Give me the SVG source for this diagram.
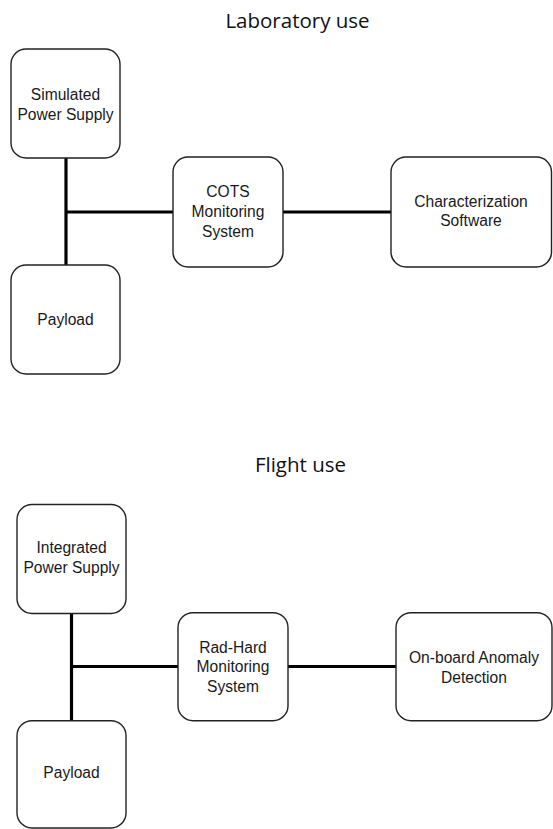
<svg xmlns="http://www.w3.org/2000/svg" width="553" height="829" viewBox="0 0 553 829">
<style>
.bg{fill:#ffffff}
.box{fill:#ffffff;stroke:#222222;stroke-width:1.4}
.lbl{font-family:"Liberation Sans",Arial,sans-serif;font-size:15.6px;fill:#1a1a1a;text-anchor:middle}
.ttl{font-family:"Open Sans","Noto Sans",sans-serif;font-size:20.5px;fill:#111111;text-anchor:middle}
.wire{stroke:#000000;stroke-width:3.2;fill:none}
</style>
<rect class="bg" x="0" y="0" width="553" height="829"/>
<text class="ttl" x="297.5" y="28">Laboratory use</text>
<text class="ttl" x="300.5" y="472">Flight use</text>
<g id="connectors">
  <path class="wire" d="M66 158 V265"/>
  <path class="wire" d="M66 212 H173"/>
  <path class="wire" d="M283 212 H391"/>
  <path class="wire" d="M71.5 613 V721"/>
  <path class="wire" d="M71.5 666.5 H178"/>
  <path class="wire" d="M288 666.5 H396"/>
</g>
<g id="sim-power">
  <rect class="box" x="11" y="49" width="109" height="109" rx="15"/>
  <text class="lbl" x="65.5" y="100">Simulated</text>
  <text class="lbl" x="65.5" y="119.5">Power Supply</text>
</g>
<g id="cots">
  <rect class="box" x="173" y="157" width="110" height="110" rx="15"/>
  <text class="lbl" x="228" y="197.3">COTS</text>
  <text class="lbl" x="228" y="217">Monitoring</text>
  <text class="lbl" x="228" y="236.7">System</text>
</g>
<g id="char-software">
  <rect class="box" x="391" y="157" width="160.5" height="110" rx="15"/>
  <text class="lbl" x="471" y="206.7">Characterization</text>
  <text class="lbl" x="471" y="226">Software</text>
</g>
<g id="payload-lab">
  <rect class="box" x="11" y="265" width="109" height="109" rx="15"/>
  <text class="lbl" x="65.5" y="325">Payload</text>
</g>
<g id="int-power">
  <rect class="box" x="17" y="504.5" width="109" height="109" rx="15"/>
  <text class="lbl" x="71.5" y="553.3">Integrated</text>
  <text class="lbl" x="71.5" y="573.3">Power Supply</text>
</g>
<g id="radhard">
  <rect class="box" x="178" y="612.7" width="110" height="108" rx="15"/>
  <text class="lbl" x="233" y="652.7">Rad-Hard</text>
  <text class="lbl" x="233" y="672">Monitoring</text>
  <text class="lbl" x="233" y="691.7">System</text>
</g>
<g id="anomaly">
  <rect class="box" x="396" y="612.7" width="156" height="108" rx="15"/>
  <text class="lbl" x="474" y="663.3">On-board Anomaly</text>
  <text class="lbl" x="474" y="682.5">Detection</text>
</g>
<g id="payload-flight">
  <rect class="box" x="17" y="720.7" width="109" height="107.3" rx="15"/>
  <text class="lbl" x="71.5" y="778.3">Payload</text>
</g>
</svg>
